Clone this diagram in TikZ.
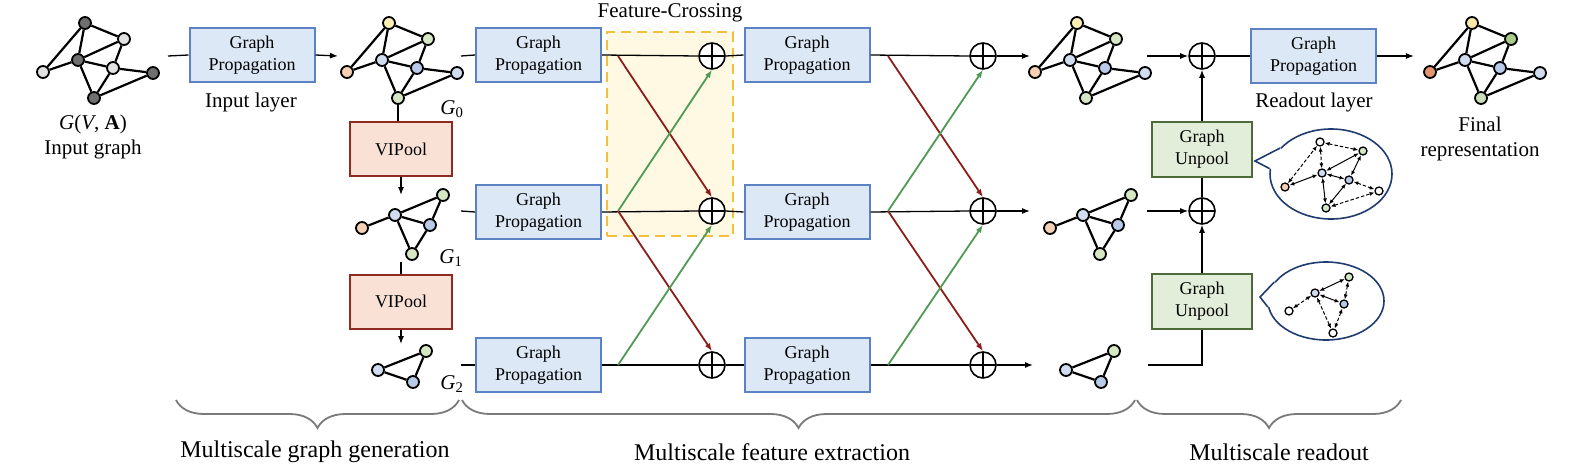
\documentclass[tikz,border=0pt]{standalone}
\usepackage{fontspec}
\setmainfont{Liberation Serif}
\usetikzlibrary{arrows.meta,shapes.geometric,decorations.pathreplacing,calc}
\definecolor{gpfill}{HTML}{DCE8F6}
\definecolor{gpdraw}{HTML}{5B82C4}
\definecolor{vpfill}{HTML}{F9E1D6}
\definecolor{vpdraw}{HTML}{8E2A20}
\definecolor{upfill}{HTML}{E3EEDA}
\definecolor{updraw}{HTML}{4D6A3C}
\definecolor{fcfill}{HTML}{FFF8E3}
\definecolor{fcdraw}{HTML}{F4BE3E}
\definecolor{redarr}{HTML}{8B1D1A}
\definecolor{greenarr}{HTML}{4F9A55}
\definecolor{bubdraw}{HTML}{1F3B70}
\definecolor{ndark}{HTML}{6F6F6F}
\definecolor{nlight}{HTML}{E2E2E2}
\definecolor{nyel}{HTML}{FDF0B4}
\definecolor{ngrn}{HTML}{D5E7C5}
\definecolor{nblu}{HTML}{D0DDF0}
\definecolor{nblu2}{HTML}{B9CAE8}
\definecolor{nora}{HTML}{F6D0B6}
\definecolor{fyel}{HTML}{F8E8AA}
\definecolor{fgrn}{HTML}{A7CD88}
\definecolor{fora}{HTML}{E4976C}
\definecolor{fgrn2}{HTML}{CADDB6}
\definecolor{bracec}{HTML}{7A7A7A}

\tikzset{
  boxfont/.style={font=\fontsize{18}{22}\selectfont},
  gpbox/.style={boxfont, draw=gpdraw, fill=gpfill, line width=2pt, minimum width=125pt, minimum height=54pt, align=center, inner sep=0pt},
  vpbox/.style={boxfont, draw=vpdraw, fill=vpfill, line width=2pt, minimum width=102pt, minimum height=54pt, inner sep=0pt},
  upbox/.style={boxfont, draw=updraw, fill=upfill, line width=2pt, minimum width=100pt, minimum height=55pt, align=center, inner sep=0pt},
  gn/.style={circle, draw, line width=1.8pt, minimum size=12pt, inner sep=0pt},
  ge/.style={line width=2.2pt},
  sn/.style={circle, draw, line width=1.3pt, minimum size=8pt, inner sep=0pt},
  se/.style={line width=1pt, {Latex[length=5pt,width=4pt]}-{Latex[length=5pt,width=4pt]}},
  sed/.style={se, dash pattern=on 3.5pt off 2pt},
  opl/.style={circle, draw, line width=1.6pt, minimum size=26pt, inner sep=0pt, fill=white,
    path picture={\draw[line width=1.6pt] (path picture bounding box.north) -- (path picture bounding box.south)
      (path picture bounding box.west) -- (path picture bounding box.east);}},
  flow/.style={line width=1.3pt},
  arr/.style={flow, -{Latex[length=8pt,width=6pt]}},
  redx/.style={draw=redarr, line width=1.8pt, -{Latex[length=8pt,width=6pt]}},
  greenx/.style={draw=greenarr, line width=1.8pt, -{Latex[length=8pt,width=6pt]}},
  lbl/.style={font=\fontsize{21}{25}\selectfont, align=center, inner sep=0pt},
  botlbl/.style={font=\fontsize{24}{28}\selectfont, inner sep=0pt},
  brc/.style={decorate, decoration={brace, mirror, amplitude=28pt}, draw=bracec, line width=1.8pt},
  fcbox/.style={draw=fcdraw, fill=fcfill, line width=2.5pt, dash pattern=on 10pt off 6pt},
  bub/.style={ellipse, draw=bubdraw, fill=white, line width=1.6pt, inner sep=0pt},
}

\newcommand{\biggraph}[9]{%
  \begin{scope}[shift={(#2,0)}]
    \node[gn,fill=#3] (#1T) at (85,23) {};
    \node[gn,fill=#4] (#1RT) at (124,39) {};
    \node[gn,fill=#5] (#1C) at (78,60) {};
    \node[gn,fill=#6] (#1L) at (43,72) {};
    \node[gn,fill=#7] (#1MR) at (113,68) {};
    \node[gn,fill=#8] (#1FR) at (153,73) {};
    \node[gn,fill=#9] (#1B) at (94,98) {};
  \end{scope}
  \draw[ge] (#1L)--(#1T) (#1T)--(#1RT) (#1T)--(#1C) (#1L)--(#1C) (#1C)--(#1RT)
    (#1C)--(#1MR) (#1C)--(#1B) (#1RT)--(#1MR) (#1MR)--(#1FR) (#1MR)--(#1B) (#1B)--(#1FR);
}
\newcommand{\midgraph}[7]{%
  \begin{scope}[shift={(#2,0)}]
    \node[gn,fill=#3] (#1L) at (362,228) {};
    \node[gn,fill=#4] (#1C) at (395,215) {};
    \node[gn,fill=#5] (#1RT) at (443,195) {};
    \node[gn,fill=#6] (#1MR) at (430,225) {};
    \node[gn,fill=#7] (#1B) at (412,254) {};
  \end{scope}
  \draw[ge] (#1L)--(#1C) (#1C)--(#1RT) (#1C)--(#1MR) (#1C)--(#1B) (#1RT)--(#1MR) (#1MR)--(#1B);
}
\newcommand{\smallgraph}[5]{%
  \begin{scope}[shift={(#2,0)}]
    \node[gn,fill=#3] (#1C) at (378,370) {};
    \node[gn,fill=#4] (#1RT) at (426,351) {};
    \node[gn,fill=#5] (#1MR) at (413,382) {};
  \end{scope}
  \draw[ge] (#1C)--(#1RT) (#1C)--(#1MR) (#1RT)--(#1MR);
}

\begin{document}
\begin{tikzpicture}[x=1pt,y=-1pt]
\useasboundingbox (0,0) rectangle (1592,474);

% feature crossing region
\node[fcbox, minimum width=126pt, minimum height=204pt, inner sep=0pt] (fc) at (670,134) {};
\node[lbl] (fclab) at (670,13) {Feature-Crossing};

% graphs
\biggraph{gin}{0}{ndark}{nlight}{ndark}{nlight}{nlight}{ndark}{ndark}
\biggraph{gz}{304}{nyel}{ngrn}{nblu}{nora}{nblu2}{nblu}{ngrn}
\biggraph{go}{992}{nyel}{ngrn}{nblu}{nora}{nblu2}{nblu}{ngrn}
\biggraph{gf}{1387}{fyel}{fgrn}{nblu}{fora}{nblu2}{nblu}{fgrn2}
\midgraph{ga}{0}{nora}{nblu}{ngrn}{nblu2}{ngrn}
\midgraph{gb}{688}{nora}{nblu}{ngrn}{nblu2}{ngrn}
\smallgraph{gc}{0}{nblu}{ngrn}{nblu2}
\smallgraph{gd}{688}{nblu}{ngrn}{nblu2}

% labels
\node[lbl] (inlab) at (93,137) {\textit{G}(\textit{V}, \textbf{A})\\Input graph};
\node[lbl] (inlayer) at (251,102) {Input layer};
\node[lbl] (rolayer) at (1314,102) {Readout layer};
\node[lbl] (finlab) at (1480,139) {Final\\representation};
\node[lbl] (lg0) at (452,109) {\textit{G}\textsubscript{0}};
\node[lbl] (lg1) at (451,258) {\textit{G}\textsubscript{1}};
\node[lbl] (lg2) at (452,384) {\textit{G}\textsubscript{2}};

% boxes
\node[gpbox] (ingp) at (252,55) {Graph\\Propagation};
\node[vpbox] (vip1) at (401,149) {VIPool};
\node[vpbox] (vip2) at (401,301.5) {VIPool};
\node[gpbox] (c1r0) at (538.5,55) {Graph\\Propagation};
\node[gpbox] (c1r1) at (538.5,212) {Graph\\Propagation};
\node[gpbox] (c1r2) at (538.5,365) {Graph\\Propagation};
\node[gpbox] (c2r0) at (807,55) {Graph\\Propagation};
\node[gpbox] (c2r1) at (807,212) {Graph\\Propagation};
\node[gpbox] (c2r2) at (807,365) {Graph\\Propagation};
\node[gpbox] (rogp) at (1313.5,56) {Graph\\Propagation};
\node[upbox] (un1) at (1202,149.5) {Graph\\Unpool};
\node[upbox] (un2) at (1202,301.5) {Graph\\Unpool};

% oplus
\node[opl] (o1r0) at (712,56) {};
\node[opl] (o1r1) at (712,211) {};
\node[opl] (o1r2) at (712,365) {};
\node[opl] (o2r0) at (983,56) {};
\node[opl] (o2r1) at (983,211) {};
\node[opl] (o2r2) at (983,365) {};
\node[opl] (ro0) at (1202,56) {};
\node[opl] (ro1) at (1202,211) {};

% coordinates
\coordinate (inst) at (168,56);
\coordinate (inend) at (338,56);
\coordinate (v1end) at (401,195);
\coordinate (v2st) at (401,262);
\coordinate (v2end) at (401,344);
\coordinate (s0) at (461,56);
\coordinate (s1) at (461,211);
\coordinate (s2) at (461,365);
\coordinate (x10) at (618,56);
\coordinate (x11) at (618,211);
\coordinate (x12) at (618,365);
\coordinate (x20) at (888,56);
\coordinate (x21) at (888,211);
\coordinate (x22) at (888,365);
\coordinate (e0) at (1030,56);
\coordinate (e1) at (1030,211);
\coordinate (e2) at (1033,365);
\coordinate (r0) at (1147,56);
\coordinate (r1) at (1147,211);
\coordinate (r2) at (1148,365);
\coordinate (fin) at (1414,56);

% flow lines
\draw[flow] (inst) -- (ingp.west);
\draw[arr] (ingp.east) -- (inend);
\draw[flow] (gzB.south) -- (gzB.south |- vip1.north);
\draw[arr] (vip1.south) -- (v1end);
\draw[flow] (v2st) -- (vip2.north);
\draw[arr] (vip2.south) -- (v2end);
\foreach \r in {0,1,2}{
  \draw[flow] (s\r) -- (c1r\r.west);
  \draw[flow] (c1r\r.east) -- (o1r\r.west);
  \draw[flow] (o1r\r.east) -- (c2r\r.west);
  \draw[flow] (c2r\r.east) -- (o2r\r.west);
  \draw[arr] (o2r\r.east) -- (e\r);
}
\draw[arr] (r0) -- (ro0.west);
\draw[arr] (r1) -- (ro1.west);
\draw[flow] (r2) -| (un2.south);
\draw[arr] (un2.north) -- (ro1.south);
\draw[flow] (ro1.north) -- (un1.south);
\draw[arr] (un1.north) -- (ro0.south);
\draw[flow] (ro0.east) -- (rogp.west);
\draw[arr] (rogp.east) -- (fin);

% crossing arrows
\draw[redx] (x10) -- (o1r1.north);
\draw[redx] (x11) -- (o1r2.north);
\draw[greenx] (x12) -- (o1r1.south);
\draw[greenx] (x11) -- (o1r0.south);
\draw[redx] (x20) -- (o2r1.north);
\draw[redx] (x21) -- (o2r2.north);
\draw[greenx] (x22) -- (o2r1.south);
\draw[greenx] (x21) -- (o2r0.south);

% bubble 1
\node[bub, minimum width=122pt, minimum height=90pt] (bub1) at (1331,174) {};
\coordinate (t1) at (1255,161);
\fill[white] ($(bub1.center)!0.85!(bub1.153)$) -- (bub1.153) -- (t1) -- (bub1.175) -- ($(bub1.center)!0.85!(bub1.175)$) -- cycle;
\draw[bubdraw, line width=1.6pt, line join=miter] (bub1.153) -- (t1) -- (bub1.175);
\node[sn,fill=white] (b1T) at (1320,142) {};
\node[sn,fill=ngrn] (b1RT) at (1363,151) {};
\node[sn,fill=nblu] (b1C) at (1322,173) {};
\node[sn,fill=nblu2] (b1MR) at (1349,180) {};
\node[sn,fill=nora] (b1L) at (1285,187) {};
\node[sn,fill=white] (b1FR) at (1379,191) {};
\node[sn,fill=ngrn] (b1B) at (1326,208) {};
\draw[sed] (b1L) -- (b1T);
\draw[sed] (b1T) -- (b1RT);
\draw[sed] (b1T) -- (b1C);
\draw[sed] (b1MR) -- (b1FR);
\draw[sed] (b1B) -- (b1FR);
\draw[se] (b1L) -- (b1C);
\draw[se] (b1C) -- (b1RT);
\draw[se] (b1C) -- (b1MR);
\draw[se] (b1C) -- (b1B);
\draw[se] (b1RT) -- (b1MR);
\draw[se] (b1MR) -- (b1B);

% bubble 2
\node[bub, minimum width=116pt, minimum height=78pt] (bub2) at (1326,301) {};
\coordinate (t2) at (1260,297);
\fill[white] ($(bub2.center)!0.85!(bub2.160)$) -- (bub2.160) -- (t2) -- (bub2.186) -- ($(bub2.center)!0.85!(bub2.186)$) -- cycle;
\draw[bubdraw, line width=1.6pt, line join=miter] (bub2.160) -- (t2) -- (bub2.186);
\node[sn,fill=ngrn] (b2RT) at (1349,277) {};
\node[sn,fill=nblu] (b2C) at (1315,293) {};
\node[sn,fill=nblu2] (b2MR) at (1344,304) {};
\node[sn,fill=white] (b2L) at (1289,311) {};
\node[sn,fill=white] (b2B) at (1333,333) {};
\draw[sed] (b2L) -- (b2C);
\draw[sed] (b2C) -- (b2B);
\draw[sed] (b2MR) -- (b2B);
\draw[sed] (b2RT) -- (b2MR);
\draw[se] (b2C) -- (b2RT);
\draw[se] (b2C) -- (b2MR);

% braces
\coordinate (br1a) at (176,400);
\coordinate (br1b) at (459,400);
\coordinate (br2a) at (462,400);
\coordinate (br2b) at (1135,400);
\coordinate (br3a) at (1137,400);
\coordinate (br3b) at (1401,400);
\draw[brc] (br1a) -- (br1b);
\draw[brc] (br2a) -- (br2b);
\draw[brc] (br3a) -- (br3b);
\node[botlbl] (bl1) at (315,452) {Multiscale graph generation};
\node[botlbl] (bl2) at (772,452) {Multiscale feature extraction};
\node[botlbl] (bl3) at (1279,452) {Multiscale readout};
\end{tikzpicture}
\end{document}
